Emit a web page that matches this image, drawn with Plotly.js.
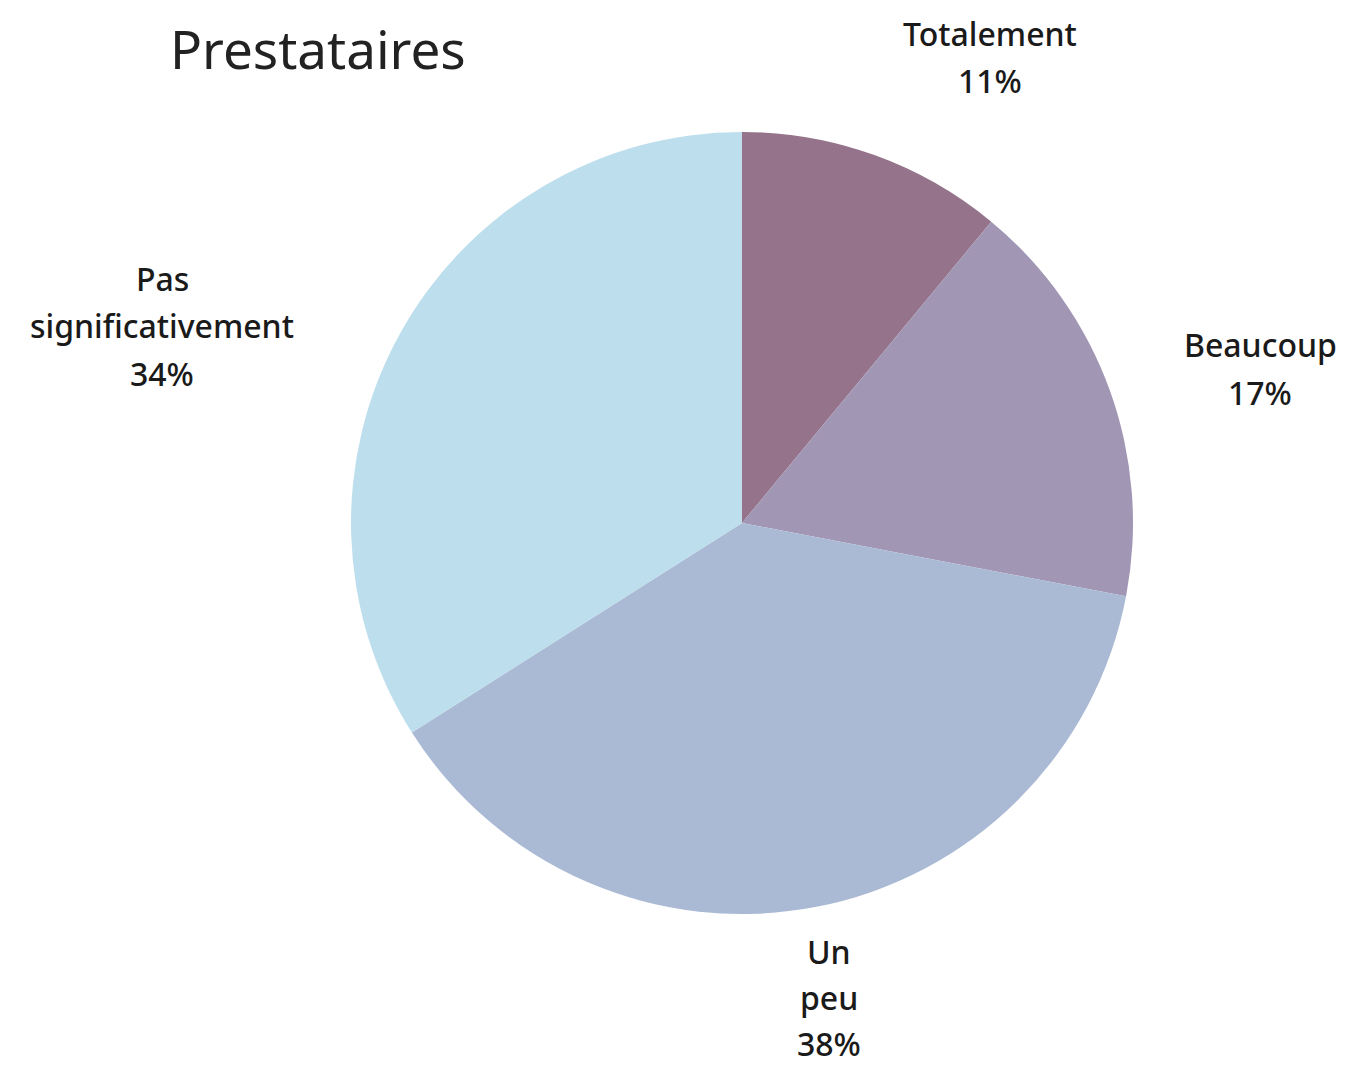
<!DOCTYPE html>
<html>
<head>
<meta charset="utf-8">
<script src="https://cdn.plot.ly/plotly-3.0.1.min.js"></script>
<style>html,body{margin:0;padding:0;background:#fff;}#chart{width:1349px;height:1067px;}</style>
</head>
<body>
<div id="chart"></div>
<script>
// Data
const categories = ["Totalement", "Beaucoup", "Un peu", "Pas significativement"];
const values = [11, 17, 38, 34];
const labelLines = [["Totalement"], ["Beaucoup"], ["Un", "peu"], ["Pas", "significativement"]];
const colors = ["#94738B", "#A197B5", "#AABAD4", "#BDDEEC"];
const chartTitle = "Prestataires";

// Layout helpers (pixel positions of label blocks: center x, first-line y, line gap)
const W = 1349, H = 1067;
const labelAnchors = [[990, 33, 47.5], [1260, 345, 47.5], [829, 951, 46], [162, 278, 47.5]];
const fontFamily = "'Noto Sans', 'Open Sans', sans-serif";

const annotations = [];
const total = values.reduce((a, b) => a + b, 0);
categories.forEach((c, i) => {
  const lines = labelLines[i].concat([Math.round(values[i] / total * 100) + "%"]);
  lines.forEach((t, j) => {
    annotations.push({
      text: t, showarrow: false, xref: "paper", yref: "paper",
      x: labelAnchors[i][0] / W, y: 1 - (labelAnchors[i][1] + j * labelAnchors[i][2]) / H,
      xanchor: "center", yanchor: "middle", borderpad: 0,
      font: {family: fontFamily, size: 32, color: "#1a1a1a", weight: 500}
    });
  });
});

const cx = 742, cy = 523, r = 391;
const trace = {
  type: "pie",
  labels: categories,
  values: values,
  sort: false,
  direction: "clockwise",
  rotation: 0,
  textinfo: "none",
  hoverinfo: "label+percent",
  marker: {colors: colors, line: {width: 0}},
  domain: {x: [(cx - r) / W, (cx + r) / W], y: [1 - (cy + r) / H, 1 - (cy - r) / H]},
  automargin: false
};

const layout = {
  width: W, height: H,
  margin: {l: 0, r: 0, t: 0, b: 0},
  paper_bgcolor: "#ffffff",
  showlegend: false,
  title: {
    text: chartTitle, x: 170 / W, xanchor: "left", xref: "paper",
    y: 1 - 50 / H, yanchor: "middle", yref: "container",
    font: {family: fontFamily, size: 53, color: "#222222"}
  },
  annotations: annotations
};

Plotly.newPlot("chart", [trace], layout, {displayModeBar: false, staticPlot: true});
</script>
</body>
</html>
